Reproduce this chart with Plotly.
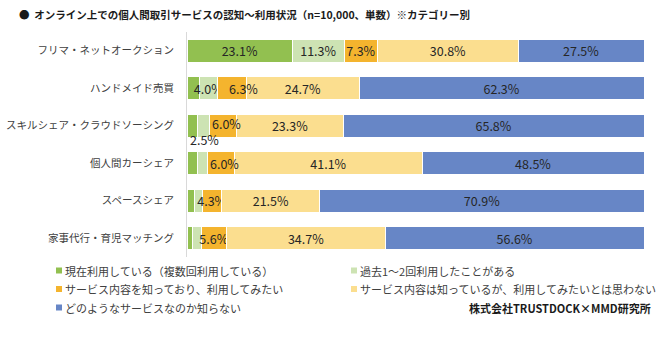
import plotly.graph_objects as go

# Categories (top to bottom) and series shares in percent
categories = [
    "フリマ・ネットオークション",
    "ハンドメイド売買",
    "スキルシェア・クラウドソーシング",
    "個人間カーシェア",
    "スペースシェア",
    "家事代行・育児マッチング",
]
series_names = [
    "現在利用している（複数回利用している）",
    "過去1～2回利用したことがある",
    "サービス内容を知っており、利用してみたい",
    "サービス内容は知っているが、利用してみたいとは思わない",
    "どのようなサービスなのか知らない",
]
current_use = [23.1, 2.7, 2.4, 2.3, 1.7, 1.3]
past_use = [11.3, 4.0, 2.5, 2.1, 1.6, 1.8]
want_to_use = [7.3, 6.3, 6.0, 6.0, 4.3, 5.6]
know_not_want = [30.8, 24.7, 23.3, 41.1, 21.5, 34.7]
unknown = [27.5, 62.3, 65.8, 48.5, 70.9, 56.6]
series_values = [current_use, past_use, want_to_use, know_not_want, unknown]

# Which data labels are shown per series (small segments are left unlabeled)
label_shown = [
    [True, False, False, False, False, False],
    [True, True, True, False, False, False],
    [True, True, True, True, True, True],
    [True, True, True, True, True, True],
    [True, True, True, True, True, True],
]
# Labels nudged away from their segment centre: (series, row) -> (dx px, dy px)
label_offsets = {
    (1, 2): (1, -14),
    (2, 1): (11, 0),
    (2, 2): (3, 2),
    (2, 3): (4, 0),
}

colors = ["#92C050", "#CDE3B3", "#F4B42E", "#FBDE8F", "#6786C6"]
text_color = "#262626"
label_color = "#404040"
font_jp = "Noto Sans CJK JP"

W, H = 669, 342
M_L, M_R, M_T, M_B = 187, 25, 32, 85
PW, PH = W - M_L - M_R, H - M_T - M_B


def px_x(px):
    return (px - M_L) / PW


def px_y(py):
    return (H - M_B - py) / PH


fig = go.Figure()
annotations = []
starts = [0.0] * len(categories)
for si, (name, vals, col) in enumerate(zip(series_names, series_values, colors)):
    texts = []
    for ri, v in enumerate(vals):
        lab = f"{v:.1f}%"
        if not label_shown[si][ri]:
            texts.append("")
        elif (si, ri) in label_offsets:
            dx, dy = label_offsets[(si, ri)]
            annotations.append(dict(
                x=starts[ri] + v / 2, y=categories[ri], xref="x", yref="y",
                text=lab, showarrow=False, xshift=dx, yshift=dy,
                font=dict(family=font_jp, size=12.5, color=text_color),
            ))
            texts.append("")
        else:
            texts.append(lab)
    fig.add_trace(go.Bar(
        name=name, y=categories, x=vals, orientation="h",
        marker=dict(color=col, line=dict(color="#FFFFFF", width=1)),
        text=texts, textposition="inside", insidetextanchor="middle",
        textangle=0, constraintext="none", cliponaxis=False,
        insidetextfont=dict(family=font_jp, size=12.5, color=text_color),
        showlegend=False, hoverinfo="skip",
    ))
    for ri, v in enumerate(vals):
        starts[ri] += v

# Legend: two columns of small squares with labels
legend_pos = [(59, 270.5), (354, 270.5), (59, 289), (354, 289), (59, 307.5)]
shapes = []
for (cx, cy), name, col in zip(legend_pos, series_names, colors):
    shapes.append(dict(
        type="rect", xref="paper", yref="paper",
        x0=px_x(cx - 3), x1=px_x(cx + 3), y0=px_y(cy + 3), y1=px_y(cy - 3),
        fillcolor=col, line=dict(width=0),
    ))
    annotations.append(dict(
        x=px_x(cx + 4), y=px_y(cy), xref="paper", yref="paper",
        xanchor="left", yanchor="middle", text=name, showarrow=False,
        font=dict(family=font_jp, size=11, color=label_color),
    ))

# Source credit
annotations.append(dict(
    x=px_x(653), y=px_y(308), xref="paper", yref="paper",
    xanchor="right", yanchor="middle", showarrow=False,
    text="<b>株式会社TRUSTDOCK×MMD研究所</b>",
    font=dict(family=font_jp, size=11, color="#1A1A1A"),
))

fig.update_layout(
    width=W, height=H,
    margin=dict(l=M_L, r=M_R, t=M_T, b=M_B, autoexpand=False),
    barmode="stack", bargap=0.395,
    paper_bgcolor="#FFFFFF", plot_bgcolor="#FFFFFF",
    title=dict(
        text="<b>●  オンライン上での個人間取引サービスの認知～利用状況（n=10,000、単数）※カテゴリー別</b>",
        x=19 / W, xref="container", xanchor="left",
        y=1 - 15 / H, yref="container", yanchor="middle",
        font=dict(family=font_jp, size=10.5, color="#1A1A1A"),
    ),
    xaxis=dict(range=[0, 100], visible=False, fixedrange=True, automargin=False),
    yaxis=dict(
        categoryorder="array", categoryarray=categories, autorange="reversed",
        showline=True, linecolor="#D9D9D9", linewidth=1, ticks="",
        ticklabelstandoff=10, showgrid=False, zeroline=False, automargin=False,
        tickfont=dict(family=font_jp, size=10.5, color=label_color),
    ),
    shapes=shapes, annotations=annotations,
    showlegend=False,
)

fig.write_html("out.html")
